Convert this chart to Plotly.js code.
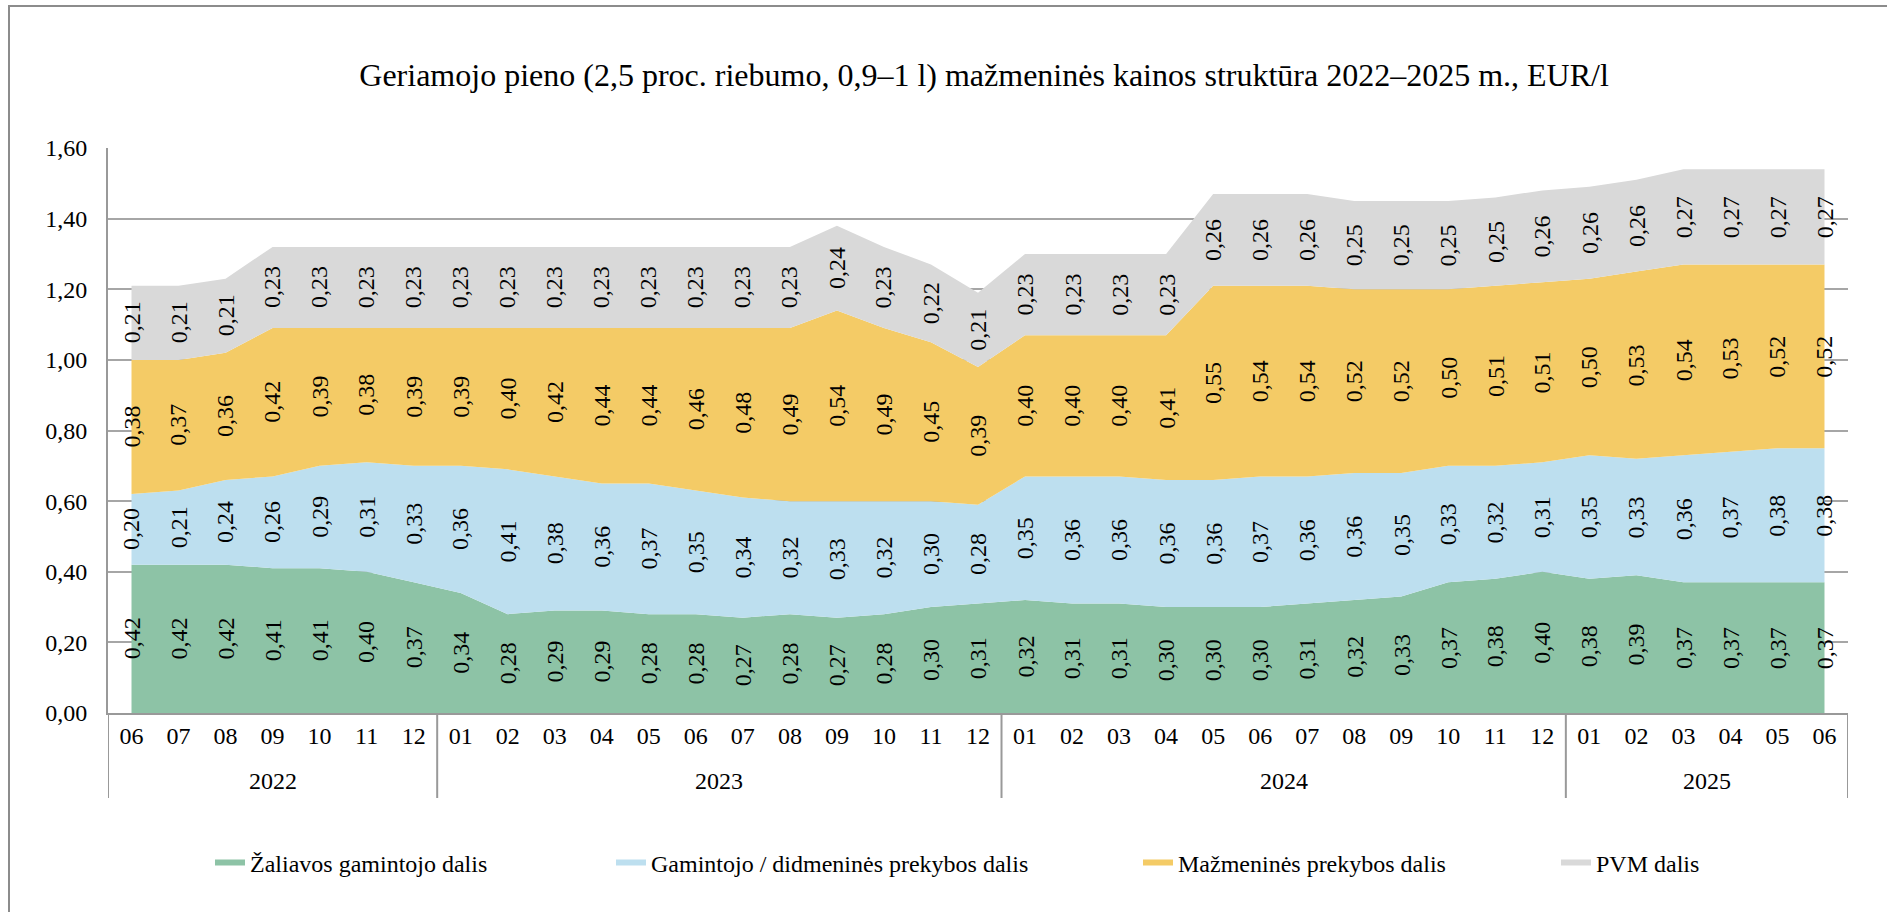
<!DOCTYPE html>
<html>
<head>
<meta charset="utf-8">
<script src="https://cdn.plot.ly/plotly-3.0.1.min.js"></script>
<style>
  html, body { margin: 0; padding: 0; background: #ffffff; }
  #chart { width: 1887px; height: 912px; }
</style>
</head>
<body>
<div id="chart"></div>
<script>
// ---- Data (EUR/l) ----
const years = ['2022','2022','2022','2022','2022','2022','2022',
  '2023','2023','2023','2023','2023','2023','2023','2023','2023','2023','2023','2023',
  '2024','2024','2024','2024','2024','2024','2024','2024','2024','2024','2024','2024',
  '2025','2025','2025','2025','2025','2025'];
const months = ['06','07','08','09','10','11','12',
  '01','02','03','04','05','06','07','08','09','10','11','12',
  '01','02','03','04','05','06','07','08','09','10','11','12',
  '01','02','03','04','05','06'];

const seriesNames = ['Žaliavos gamintojo dalis', 'Gamintojo / didmeninės prekybos dalis',
  'Mažmeninės prekybos dalis', 'PVM dalis'];

const rawShare = [0.42,0.42,0.42,0.41,0.41,0.40,0.37,
  0.34,0.28,0.29,0.29,0.28,0.28,0.27,0.28,0.27,0.28,0.30,0.31,
  0.32,0.31,0.31,0.30,0.30,0.30,0.31,0.32,0.33,0.37,0.38,0.40,
  0.38,0.39,0.37,0.37,0.37,0.37];
const wholesaleShare = [0.20,0.21,0.24,0.26,0.29,0.31,0.33,
  0.36,0.41,0.38,0.36,0.37,0.35,0.34,0.32,0.33,0.32,0.30,0.28,
  0.35,0.36,0.36,0.36,0.36,0.37,0.36,0.36,0.35,0.33,0.32,0.31,
  0.35,0.33,0.36,0.37,0.38,0.38];
const retailShare = [0.38,0.37,0.36,0.42,0.39,0.38,0.39,
  0.39,0.40,0.42,0.44,0.44,0.46,0.48,0.49,0.54,0.49,0.45,0.39,
  0.40,0.40,0.40,0.41,0.55,0.54,0.54,0.52,0.52,0.50,0.51,0.51,
  0.50,0.53,0.54,0.53,0.52,0.52];
const vatShare = [0.21,0.21,0.21,0.23,0.23,0.23,0.23,
  0.23,0.23,0.23,0.23,0.23,0.23,0.23,0.23,0.24,0.23,0.22,0.21,
  0.23,0.23,0.23,0.23,0.26,0.26,0.26,0.25,0.25,0.25,0.25,0.26,
  0.26,0.26,0.27,0.27,0.27,0.27];

const colors = ['#8DC3A6', '#BDDFEF', '#F4CB66', '#D9D9D9'];
const allSeries = [rawShare, wholesaleShare, retailShare, vatShare];

const FONT = 'Liberation Serif, Times New Roman, serif';
const FS = 24;
const xIdx = months.map((m, i) => i);

const traces = allSeries.map((vals, k) => ({
  type: 'scatter',
  mode: 'none',
  x: xIdx,
  y: vals,
  name: seriesNames[k],
  stackgroup: 'one',
  fillcolor: colors[k],
  line: { width: 0 },
  hoverinfo: 'y+name',
  legend: k === 0 ? 'legend' : 'legend' + (k + 1)
}));

const L = 108, R = 39, T = 148, B = 199;
const W = 1887, H = 912;
const pw = W - L - R, ph = H - T - B;
const px2x = (p) => (p - L) / pw;
const py2y = (p) => (H - B - p) / ph;

// value labels, centred in each band
const annotations = [];
const base = new Array(months.length).fill(0);
allSeries.forEach((vals) => {
  vals.forEach((v, i) => {
    annotations.push({
      x: i, y: base[i] + v / 2, xref: 'x', yref: 'y',
      text: v.toFixed(2).replace('.', ','),
      showarrow: false, textangle: -90,
      font: { family: FONT, size: FS, color: '#000' }
    });
    base[i] += v;
  });
});

// year group labels and dividers
const shapes = [];
const groupStarts = [];
years.forEach((y, i) => { if (i === 0 || years[i - 1] !== y) groupStarts.push(i); });
groupStarts.forEach((s, g) => {
  const e = g + 1 < groupStarts.length ? groupStarts[g + 1] - 1 : years.length - 1;
  annotations.push({
    x: (s + e) / 2, xref: 'x', y: py2y(781), yref: 'paper', yanchor: 'middle',
    text: years[s], showarrow: false,
    font: { family: FONT, size: FS, color: '#000' }
  });
  shapes.push({
    type: 'line', xref: 'x', yref: 'paper',
    x0: s - 0.5, x1: s - 0.5, y0: 0, y1: py2y(798),
    line: { color: '#999', width: 2 }
  });
});
shapes.push({
  type: 'line', xref: 'x', yref: 'paper',
  x0: years.length - 0.5, x1: years.length - 0.5, y0: 0, y1: py2y(798),
  line: { color: '#999', width: 2 }
});
// outer chart frame
shapes.push({
  type: 'rect', xref: 'paper', yref: 'paper',
  x0: px2x(9), x1: px2x(1950), y0: py2y(960), y1: py2y(6),
  line: { color: '#8C8C8C', width: 2 }, fillcolor: 'rgba(0,0,0,0)', layer: 'below'
});

function legendAt(pxLeft) {
  return {
    orientation: 'h', x: px2x(pxLeft), xanchor: 'left',
    y: py2y(863), yanchor: 'middle',
    font: { family: FONT, size: FS, color: '#000' },
    bgcolor: 'rgba(0,0,0,0)', itemwidth: 30
  };
}

const layout = {
  width: W, height: H,
  margin: { l: L, r: R, t: T, b: B },
  paper_bgcolor: '#ffffff', plot_bgcolor: '#ffffff',
  separators: ', ',
  font: { family: FONT, size: FS, color: '#000' },
  title: {
    text: 'Geriamojo pieno (2,5 proc. riebumo, 0,9–1 l) mažmeninės kainos struktūra 2022–2025 m., EUR/l',
    font: { family: FONT, size: 32, color: '#000' },
    x: 0.5215, xref: 'container', xanchor: 'center',
    y: 1 - 75 / H, yref: 'container', yanchor: 'middle'
  },
  xaxis: {
    type: 'linear',
    range: [-0.5, months.length - 0.5],
    tickmode: 'array', tickvals: xIdx, ticktext: months,
    showline: true, linecolor: '#999', linewidth: 2,
    showgrid: false, zeroline: false, ticks: '', ticklabelstandoff: 0,
    tickfont: { family: FONT, size: FS, color: '#000' }
  },
  yaxis: {
    range: [0, 1.6], dtick: 0.2, tickformat: '.2f',
    showline: true, linecolor: '#999', linewidth: 2,
    showgrid: true, gridcolor: '#A6A6A6', gridwidth: 2,
    zeroline: false, ticks: '', ticklabelstandoff: 14,
    tickfont: { family: FONT, size: FS, color: '#000' }
  },
  showlegend: true,
  legend: legendAt(210),
  legend2: legendAt(611),
  legend3: legendAt(1138),
  legend4: legendAt(1556),
  annotations: annotations,
  shapes: shapes
};

Plotly.newPlot('chart', traces, layout, { staticPlot: true, displayModeBar: false });
</script>
</body>
</html>
